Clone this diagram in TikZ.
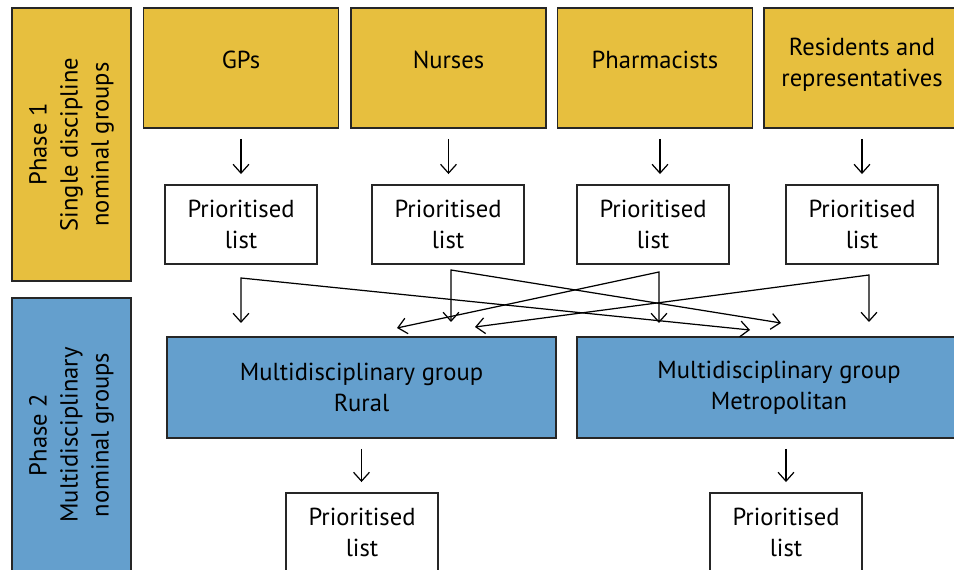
\documentclass[tikz,border=0pt]{standalone}
\usepackage{fontspec}
\setmainfont{PT Sans}
\usetikzlibrary{positioning,arrows.meta}

\definecolor{phaseyellow}{RGB}{231,191,62}
\definecolor{phaseblue}{RGB}{100,159,205}

\tikzset{
	groupbox/.style={draw=black!85,line width=1.1pt,align=center,inner sep=0pt,
		font=\fontsize{14}{17.6}\selectfont},
	boxtext/.style={align=center,inner sep=0pt,font=\fontsize{14}{17.6}\selectfont},
	yellowbox/.style n args={2}{groupbox,fill=phaseyellow,minimum width=3.9cm,minimum height=2.4cm,
		label={[boxtext,yshift=#2]center:#1}},
	bluebox/.style={groupbox,fill=phaseblue,minimum height=2.02cm},
	phasebox/.style={groupbox,rotate=90,minimum height=2.38cm},
	listbox/.style={groupbox,fill=white,minimum width=3.04cm,minimum height=1.58cm},
	arr/.style={line width=0.7pt,-{Straight Barb[length=5pt,width=9pt]},shorten <=0.2cm,shorten >=0.2cm},
	link/.style={line width=0.7pt,{Straight Barb[length=5pt,width=9pt]}-{Straight Barb[length=5pt,width=9pt]}}
}

\begin{document}
\begin{tikzpicture}[x=0.02cm,y=-0.02cm]
		\useasboundingbox (0,0) rectangle (954,570);

		\node[phasebox,fill=phaseyellow,minimum width=5.46cm]	(phaseA) at (71.5,144.5)	{Phase 1\\Single discipline\\nominal groups};
		\node[phasebox,fill=phaseblue,minimum width=5.48cm]		(phaseB) at (71.5,435)		{Phase 2\\Multidisciplinary\\nominal groups};

		\node[yellowbox={GPs}{4.6pt}]			(gps)		at (241,68)		{};
		\node[yellowbox={Nurses}{4.6pt}]		(nurses)	at (448.5,68)	{};
		\node[yellowbox={Pharmacists}{4.6pt}]	(pharm)		at (655,68)		{};
		\node[yellowbox={Residents and\\representatives}{1.7pt},minimum width=3.92cm]	(res)	at (862,68)	{};

		\node[listbox]		(listG)		at (241,224.5)	{Prioritised\\list};
		\node[listbox]		(listN)		at (448,224.5)	{Prioritised\\list};
		\node[listbox]		(listP)		at (653,224.5)	{Prioritised\\list};
		\node[listbox]		(listR)		at (862,224.5)	{Prioritised\\list};

		\node[bluebox,minimum width=7.8cm]	(rural)	at (361.5,387.5)	{Multidisciplinary group\\Rural};
		\node[bluebox,minimum width=8.08cm]	(metro)	at (779,387.5)		{Multidisciplinary group\\Metropolitan};

		\node[listbox]		(listRu)	at (362,532.5)	{Prioritised\\list};
		\node[listbox]		(listMe)	at (786,532.5)	{Prioritised\\list};

		\draw[arr]	(gps.south)		-- (gps.south |- listG.north);
		\draw[arr]	(nurses.south)	-- (nurses.south |- listN.north);
		\draw[arr]	([xshift=0.1cm]pharm.south)	-- ([xshift=0.1cm]pharm.south |- listP.north);
		\draw[arr]	(res.south)		-- (res.south |- listR.north);
		\draw[arr]	(rural.south)	-- (rural.south |- listRu.north);
		\draw[arr]	(listMe.north |- metro.south)	-- (listMe.north);

		\coordinate	(fG)	at (241,278);
		\coordinate	(fN)	at (451,270);
		\coordinate	(fP)	at (659,272);
		\coordinate	(fR)	at (869,275);

		\coordinate	(gRu)	at (241,323);
		\coordinate	(gMe)	at (750,330);
		\coordinate	(nRu)	at (451,322);
		\coordinate	(nMe)	at (781,323);
		\coordinate	(pRu)	at (397,328);
		\coordinate	(pMe)	at (659,323);
		\coordinate	(rRu)	at (475,327);
		\coordinate	(rMe)	at (869,322);

		\draw[link]	(gRu) -- (fG) -- (gMe);
		\draw[link]	(nRu) -- (fN) -- (nMe);
		\draw[link]	(pRu) -- (fP) -- (pMe);
		\draw[link]	(rRu) -- (fR) -- (rMe);
	\end{tikzpicture}
\end{document}
